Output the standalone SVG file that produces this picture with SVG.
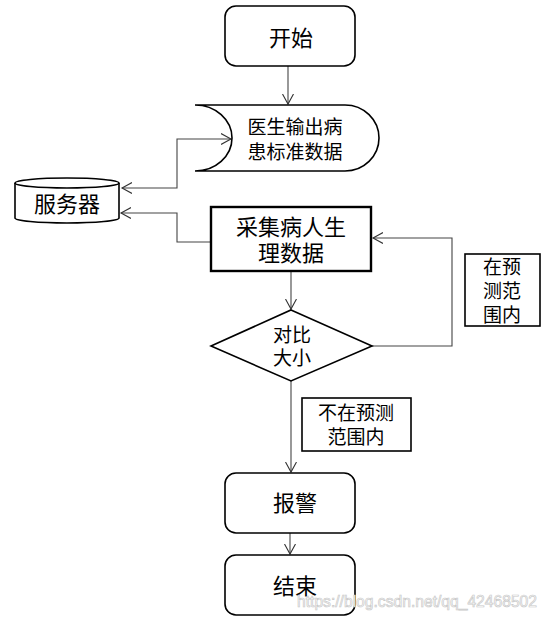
<svg xmlns="http://www.w3.org/2000/svg" width="549" height="620" viewBox="0 0 549 620">
<style>
  .shape { fill: #fff; stroke: #000; stroke-width: 1.6; }
  .thick { fill: #fff; stroke: #000; stroke-width: 2.4; }
  .conn { fill: none; stroke: #444; stroke-width: 1.1; }
  .t { font-family: "Noto Sans CJK SC", "Noto Sans", sans-serif; fill: #000; text-anchor: middle; dominant-baseline: central; }
  .big { font-size: 22px; }
  .mid { font-size: 19px; }
  .wm { font-family: "Liberation Sans", Arial, sans-serif; font-size: 16px; fill: #fff; stroke: #c8c8c8; stroke-width: 0.7; }
</style>
<defs>
  <marker id="arr" markerUnits="userSpaceOnUse" markerWidth="12" markerHeight="12" refX="10" refY="5.5" orient="auto-start-reverse" viewBox="0 0 12 11">
    <path d="M0,0 L10,5.5 L0,11" fill="none" stroke="#333" stroke-width="1.1"/>
  </marker>
</defs>
<rect width="549" height="620" fill="#fff"/>

<g id="connectors">
  <path class="conn" d="M288,66 V104" marker-end="url(#arr)"/>
  <path class="conn" d="M231,139 H177 V188 H122" marker-start="url(#arr)" marker-end="url(#arr)"/>
  <path class="conn" d="M211,242 H177 V213 H121" marker-end="url(#arr)"/>
  <path class="conn" d="M291,272 V309" marker-end="url(#arr)"/>
  <path class="conn" d="M372,346 H452 V238 H373" marker-end="url(#arr)"/>
  <path class="conn" d="M291,381 V472" marker-end="url(#arr)"/>
  <path class="conn" d="M290,527 V554" marker-end="url(#arr)"/>
</g>

<g id="start">
  <rect class="shape" x="225" y="6" width="130" height="60" rx="11"/>
  <text class="t big" x="291" y="36">开始</text>
</g>

<g id="doctor-data">
  <path class="shape" d="M195,105 H345 A34,33 0 0 1 345,171 H195 A37,33 0 0 0 195,105 Z"/>
  <text class="t mid" x="295" y="125">医生输出病</text>
  <text class="t mid" x="295" y="150">患标准数据</text>
</g>

<g id="server">
  <path class="shape" d="M15,183 V218 A52,5 0 0 0 119,218 V183"/>
  <ellipse class="shape" cx="67" cy="183" rx="52" ry="5"/>
  <text class="t big" x="67" y="202">服务器</text>
</g>

<g id="collect">
  <rect class="thick" x="211" y="207" width="160" height="64"/>
  <text class="t big" x="291" y="225">采集病人生</text>
  <text class="t big" x="291" y="251">理数据</text>
</g>

<g id="compare">
  <polygon class="shape" points="291,310 372,346 291,381 211,346"/>
  <text class="t mid" x="292" y="333">对比</text>
  <text class="t mid" x="292" y="356">大小</text>
</g>

<g id="label-in-range">
  <rect class="shape" x="465" y="254" width="75" height="72"/>
  <text class="t mid" x="502" y="265">在预</text>
  <text class="t mid" x="502" y="289">测范</text>
  <text class="t mid" x="502" y="313">围内</text>
</g>

<g id="label-out-range">
  <rect class="shape" x="302" y="398" width="109" height="53"/>
  <text class="t mid" x="356" y="411">不在预测</text>
  <text class="t mid" x="356" y="435">范围内</text>
</g>

<g id="alarm">
  <rect class="shape" x="225" y="473" width="130" height="60" rx="11"/>
  <text class="t big" x="295" y="501">报警</text>
</g>

<g id="end">
  <rect class="shape" x="225" y="555" width="130" height="60" rx="11"/>
  <text class="t big" x="295" y="584">结束</text>
</g>

<text class="wm" x="297" y="607" textLength="240" lengthAdjust="spacingAndGlyphs">https://blog.csdn.net/qq_42468502</text>
</svg>
